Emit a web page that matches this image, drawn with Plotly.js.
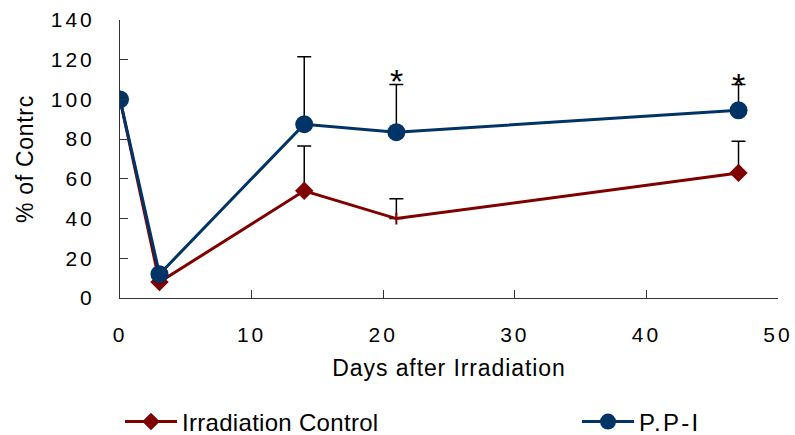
<!DOCTYPE html>
<html><head><meta charset="utf-8">
<script src="https://cdn.plot.ly/plotly-3.0.1.min.js"></script>
<style>
html,body{margin:0;padding:0;background:#fff}
#chart{width:795px;height:435px}
#chart .xtick text, #chart .ytick text{letter-spacing:3px}
#chart .g-xtitle text{letter-spacing:0.9px}
#chart .g-ytitle text{letter-spacing:0.7px}
#chart .legendtext{letter-spacing:0.3px}
</style>
</head><body><div id="chart"></div>
<script>
var days = [0, 3, 14, 21, 47];
var irradiationControl = [100, 8, 54, 40, 63];
var irradiationControlErr = [0, 0, 22.5, 10, 16];
var ppi = [100, 12, 87.5, 83.5, 94.5];
var ppiErr = [0, 0, 34, 24, 13];
var starDays = [21, 47];
var starY = [113.3, 111.4];
var seriesNames = ['Irradiation Control', 'P.P-I'];

var FONT = 'Liberation Sans, Arial, sans-serif';
var RED = '#800000', BLUE = '#003366';

var traces = [
  {x: days, y: irradiationControl, name: seriesNames[0], type: 'scatter', mode: 'lines+markers',
   legend: 'legend',
   line: {color: RED, width: 3},
   marker: {color: RED, size: [12,12,12,8.5,12], symbol: ['diamond','diamond','diamond','line-ns','diamond'],
            opacity: 1, line: {color: RED, width: 2}},
   error_y: {type: 'data', symmetric: false, array: irradiationControlErr, arrayminus: [0,0,0,0,0], color: '#000', thickness: 1.5, width: 7}},
  {x: days, y: ppi, name: '<span style="letter-spacing:2.2px">' + seriesNames[1] + '</span>', type: 'scatter', mode: 'lines+markers',
   legend: 'legend2',
   line: {color: BLUE, width: 3},
   marker: {color: BLUE, size: 18, symbol: 'circle', opacity: 1},
   error_y: {type: 'data', symmetric: false, array: ppiErr, arrayminus: [0,0,0,0,0], color: '#000', thickness: 1.5, width: 7}}
];

var annotations = starDays.map(function(d, i){
  return {x: d, y: starY[i], xref: 'x', yref: 'y', text: '*', showarrow: false,
          font: {family: FONT, size: 34, color: '#000'}, yanchor: 'middle', yshift: -8};
});

var legendCommon = {orientation: 'h', xref: 'container', yref: 'container', y: 0.03, yanchor: 'middle', xanchor: 'left',
  font: {family: FONT, size: 24, color: '#000'}, itemwidth: 52, bgcolor: 'rgba(0,0,0,0)', borderwidth: 0};

var layout = {
  width: 795, height: 435,
  margin: {l: 120, r: 17, t: 20, b: 137},
  paper_bgcolor: '#fff', plot_bgcolor: '#fff',
  font: {family: FONT, size: 20, color: '#000'},
  showlegend: true,
  legend: Object.assign({}, legendCommon, {x: 120/795}),
  legend2: Object.assign({}, legendCommon, {x: 577/795}),
  xaxis: {range: [0, 50], dtick: 10, showline: true, linecolor: '#333', linewidth: 1,
          ticks: 'inside', ticklen: 8, tickcolor: '#333', showgrid: false, zeroline: false,
          ticklabelstandoff: 18, tickfont: {family: FONT, size: 21},
          title: {text: 'Days after Irradiation', font: {family: FONT, size: 23}, standoff: 14}},
  yaxis: {range: [0, 140], dtick: 20, showline: true, linecolor: '#333', linewidth: 1,
          ticks: 'inside', ticklen: 8, tickcolor: '#333', showgrid: false, zeroline: false,
          ticklabelstandoff: 20, tickfont: {family: FONT, size: 21},
          title: {text: '% of Contrc', font: {family: FONT, size: 23}, standoff: 19}},
  annotations: annotations
};
Plotly.newPlot('chart', traces, layout, {displayModeBar: false, staticPlot: true});
</script></body></html>
